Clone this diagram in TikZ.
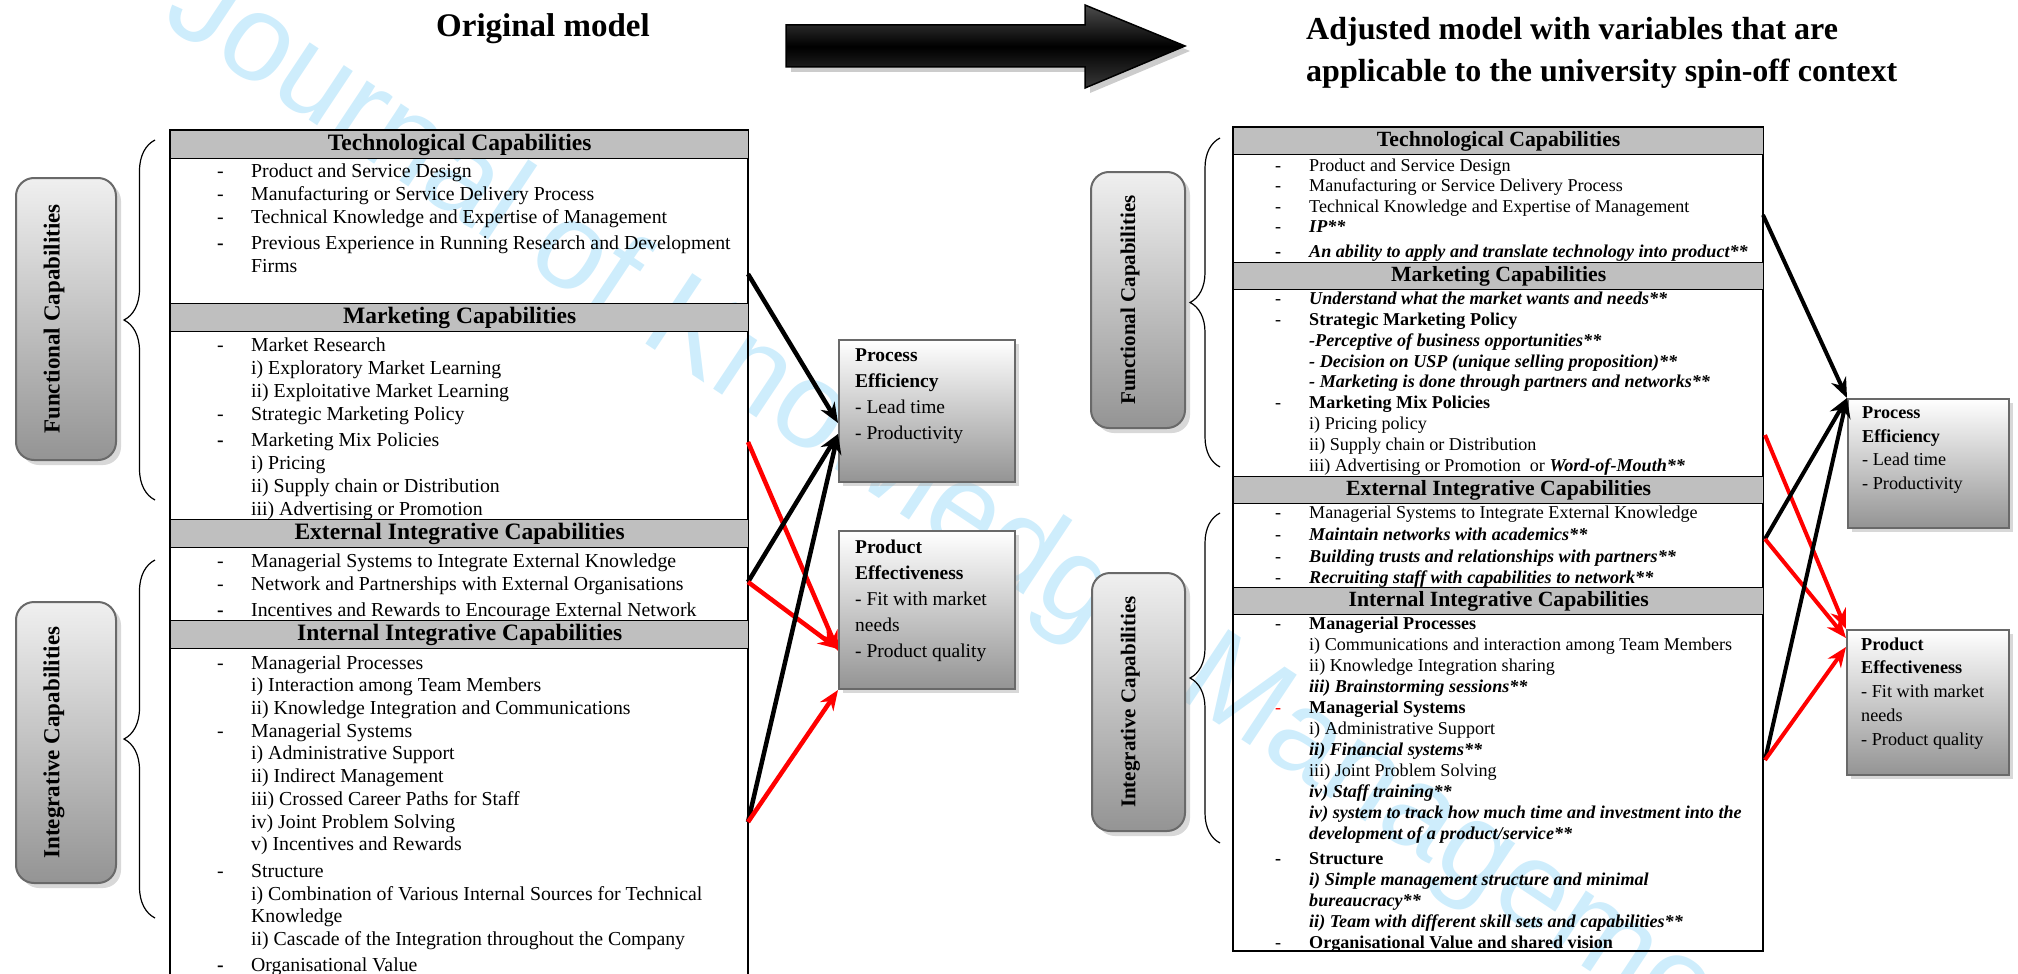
\documentclass[tikz,border=0pt]{standalone}
\usepackage{fontspec}
\setmainfont{Liberation Serif}
\newfontfamily\wmfont{Liberation Sans}
\usetikzlibrary{shapes,arrows.meta,positioning,shadows,decorations.pathreplacing}

\definecolor{hdrgray}{RGB}{191,191,191}
\definecolor{edgegray}{RGB}{105,105,105}
\definecolor{wmblue}{RGB}{206,237,252}

% list helpers
\newcommand{\itemdash}{\strut\makebox[34pt][l]{-}}
\newcommand{\itemdashb}{\strut\makebox[34pt][l]{\textbf{-}}}
\newcommand{\itemind}{\strut\hspace*{34pt}}
\newcommand{\bi}[1]{\textbf{\textit{#1}}}

\begin{document}
\begin{tikzpicture}[x=1pt, y=-1pt,
    hdrL/.style={draw, fill=hdrgray, line width=1.3pt, anchor=north west, inner sep=0pt,
                 minimum width=578pt, minimum height=28pt, font=\fontsize{23.5}{26}\selectfont\bfseries},
    hdrR/.style={hdrL, minimum width=530pt, minimum height=26.5pt, font=\fontsize{21.7}{24}\selectfont\bfseries},
    bodyL/.style={anchor=north west, inner sep=0pt, align=left, font=\fontsize{19.8}{23}\selectfont},
    bodyR/.style={bodyL, font=\fontsize{18.1}{20.8}\selectfont},
    sidebox/.style={draw=edgegray, line width=2pt, rounded corners=18pt, top color=black!6, bottom color=black!42,
                    drop shadow={shadow xshift=5pt, shadow yshift=-5pt, fill=black!30}},
    sidetext/.style={rotate=90, inner sep=0pt, font=\fontsize{23}{26}\selectfont\bfseries},
    outbox/.style={draw=edgegray, line width=2pt, anchor=north west, top color=white, bottom color=black!42,
                   drop shadow={shadow xshift=4pt, shadow yshift=-4pt, fill=black!30}},
    outtextL/.style={anchor=north west, align=left, inner xsep=17pt, inner ysep=9.8pt, font=\fontsize{19.5}{26}\selectfont},
    outtextR/.style={outtextL, inner xsep=15pt, inner ysep=8.2pt, font=\fontsize{18.2}{23.8}\selectfont},
    blackarr/.style={line width=4.5pt, -{Stealth[length=20pt,width=16pt]}},
    redarr/.style={blackarr, red},
    brc/.style={decorate, decoration={brace, amplitude=31pt}, line width=1.2pt},
    ttl/.style={inner sep=0pt, font=\fontsize{33}{42}\selectfont\bfseries}
]
\path[use as bounding box] (0,0) rectangle (2018,974);
\clip (0,0) rectangle (2018,974);

% watermark
\node[rotate=-33.6, text=wmblue, font=\wmfont\fontsize{123}{123}\selectfont] (wmark) at (983,530) {Journal of Knowledge Management};

% titles and big arrow
\node[ttl, anchor=base] (origT) at (543,37) {Original model};
\node[ttl, anchor=north west, align=left, font=\fontsize{32}{42}\selectfont\bfseries] (adjT) at (1306,9.6) {\strut Adjusted model with variables that are\\applicable to the university spin-off context};
\path[draw=black, line width=1.5pt, shading=axis, top color=black!70, bottom color=black!78, middle color=black,
      drop shadow={shadow xshift=5pt, shadow yshift=-5pt, fill=black!40}]
  (786,25) -- (1085,25) -- (1085,5) -- (1185,46) -- (1085,88) -- (1085,67) -- (786,67) -- cycle;

% ---------------- original model ----------------
\node[sidebox, minimum width=100pt, minimum height=282pt] (funcL) at (66,319) {};
\node[sidetext] (funcLt) at ([xshift=-12pt]funcL.center) {Functional Capabilities};
\node[sidebox, minimum width=100pt, minimum height=281pt] (integL) at (66,742.5) {};
\node[sidetext] (integLt) at ([xshift=-12pt]integL.center) {Integrative Capabilities};
\draw[brc] (155,500) -- (155,140);
\draw[brc] (155,918) -- (155,560);

\draw[line width=1.3pt] (170,130) rectangle (748,1000);
\node[hdrL] (techHL) at (170,130) {Technological Capabilities};
\node[bodyL] (techBL) at (217,161) {%
\itemdash Product and Service Design\\
\itemdash Manufacturing or Service Delivery Process\\
\itemdash Technical Knowledge and Expertise of Management\\[3pt]
\itemdashb Previous Experience in Running Research and Development\\
\itemind Firms};
\node[hdrL] (mktHL) at (170,303) {Marketing Capabilities};
\node[bodyL] (mktBL) at (217,335) {%
\itemdash Market Research\\
\itemind i) Exploratory Market Learning\\
\itemind ii) Exploitative Market Learning\\
\itemdash Strategic Marketing Policy\\[3.5pt]
\itemdashb Marketing Mix Policies\\
\itemind i) Pricing\\
\itemind ii) Supply chain or Distribution\\
\itemind iii) Advertising or Promotion};
\node[hdrL] (extHL) at (170,519) {External Integrative Capabilities};
\node[bodyL] (extBL) at (217,551) {%
\itemdash Managerial Systems to Integrate External Knowledge\\
\itemdash Network and Partnerships with External Organisations\\[3pt]
\itemdashb Incentives and Rewards to Encourage External Network};
\node[hdrL] (intHL) at (170,620) {Internal Integrative Capabilities};
\node[bodyL, font=\fontsize{19.8}{22.7}\selectfont] (intBL) at (217,653) {%
\itemdash Managerial Processes\\
\itemind i) Interaction among Team Members\\
\itemind ii) Knowledge Integration and Communications\\
\itemdash Managerial Systems\\
\itemind i) Administrative Support\\
\itemind ii) Indirect Management\\
\itemind iii) Crossed Career Paths for Staff\\
\itemind iv) Joint Problem Solving\\
\itemind v) Incentives and Rewards\\[4pt]
\itemdash Structure\\
\itemind i) Combination of Various Internal Sources for Technical\\
\itemind Knowledge\\
\itemind ii) Cascade of the Integration throughout the Company\\[3pt]
\itemdashb Organisational Value};

\node[outbox, minimum width=176pt, minimum height=142pt] (peL) at (838,339) {};
\node[outtextL] (peLt) at (peL.north west) {\textbf{Process}\\\textbf{Efficiency}\\- Lead time\\- Productivity};
\node[outbox, minimum width=176pt, minimum height=158pt] (pqL) at (838,530) {};
\node[outtextL] (pqLt) at (pqL.north west) {\textbf{Product}\\\textbf{Effectiveness}\\- Fit with market\\needs\\- Product quality};

\coordinate (sL1) at (748,274);
\coordinate (sL2) at (748,442);
\coordinate (sL3) at (748,582);
\coordinate (sL4) at (748,822);
\draw[blackarr] (sL1) -- ([yshift=-12pt]peL.west);
\draw[redarr] (sL2) -- ([yshift=-41pt]pqL.west);
\draw[blackarr] (sL3) -- ([yshift=-23pt]peL.west);
\draw[redarr] (sL3) -- ([yshift=-39pt]pqL.west);
\draw[blackarr] (sL4) -- ([yshift=-23pt]peL.west);
\draw[redarr] (sL4) -- (pqL.south west);

% ---------------- adjusted model ----------------
\node[sidebox, minimum width=94pt, minimum height=256pt] (funcR) at (1138,300) {};
\node[sidetext, font=\fontsize{21}{24}\selectfont\bfseries] (funcRt) at ([xshift=-8pt]funcR.center) {Functional Capabilities};
\node[sidebox, minimum width=93pt, minimum height=258pt] (integR) at (1138.5,702) {};
\node[sidetext, font=\fontsize{21}{24}\selectfont\bfseries] (integRt) at ([xshift=-8pt]integR.center) {Integrative Capabilities};
\draw[brc, decoration={amplitude=30pt}] (1220,467) -- (1220,138);
\draw[brc, decoration={amplitude=30pt}] (1220,843) -- (1220,513);

\draw[line width=1.3pt] (1233,127) rectangle (1763,951);
\node[hdrR] (techHR) at (1233,127) {Technological Capabilities};
\node[bodyR, font=\fontsize{18.1}{20.5}\selectfont] (techBR) at (1275,156.7) {%
\itemdash Product and Service Design\\
\itemdash Manufacturing or Service Delivery Process\\
\itemdash Technical Knowledge and Expertise of Management\\
\itemdash \bi{IP**}\\[4.5pt]
\itemdashb \bi{An ability to apply and translate technology into product**}};
\node[hdrR] (mktHR) at (1233,262) {Marketing Capabilities};
\node[bodyR] (mktBR) at (1275,290) {%
\itemdash \bi{Understand what the market wants and needs**}\\
\itemdash \textbf{Strategic Marketing Policy}\\
\itemind \bi{-Perceptive of business opportunities**}\\
\itemind \bi{- Decision on USP (unique selling proposition)**}\\
\itemind \bi{- Marketing is done through partners and networks**}\\
\itemdash \textbf{Marketing Mix Policies}\\
\itemind i) Pricing policy\\
\itemind ii) Supply chain or Distribution\\
\itemind iii) Advertising or Promotion\ \ or \bi{Word-of-Mouth**}};
\node[hdrR] (extHR) at (1233,476) {External Integrative Capabilities};
\node[bodyR, font=\fontsize{18.1}{21.7}\selectfont] (extBR) at (1275,503.3) {%
\itemdash Managerial Systems to Integrate External Knowledge\\
\itemdash \bi{Maintain networks with academics**}\\
\itemdash \bi{Building trusts and relationships with partners**}\\
\itemdash \bi{Recruiting staff with capabilities to network**}};
\node[hdrR] (intHR) at (1233,587) {Internal Integrative Capabilities};
\node[bodyR, font=\fontsize{18.1}{21}\selectfont] (intBR) at (1275,614.8) {%
\itemdash \textbf{Managerial Processes}\\
\itemind i) Communications and interaction among Team Members\\
\itemind ii) Knowledge Integration sharing\\
\itemind \bi{iii) Brainstorming sessions**}\\
\strut\makebox[34pt][l]{\color{red}-}\textbf{Managerial Systems}\\
\itemind i) Administrative Support\\
\itemind \bi{ii) Financial systems**}\\
\itemind iii) Joint Problem Solving\\
\itemind \bi{iv) Staff training**}\\
\itemind \bi{iv) system to track how much time and investment into the}\\
\itemind \bi{development of a product/service**}\\[4pt]
\itemdashb \textbf{Structure}\\
\itemind \bi{i) Simple management structure and minimal}\\
\itemind \bi{bureaucracy**}\\
\itemind \bi{ii) Team with different skill sets and capabilities**}\\
\itemdash \textbf{Organisational Value and shared vision}};

\node[outbox, minimum width=161pt, minimum height=129pt] (peR) at (1847,398) {};
\node[outtextR] (peRt) at (peR.north west) {\textbf{Process}\\\textbf{Efficiency}\\- Lead time\\- Productivity};
\node[outbox, minimum width=162pt, minimum height=145pt] (pqR) at (1846,629) {};
\node[outtextR] (pqRt) at (pqR.north west) {\textbf{Product}\\\textbf{Effectiveness}\\- Fit with market\\needs\\- Product quality};

\coordinate (sR1) at (1763,215);
\coordinate (sR2) at (1765,435);
\coordinate (sR3) at (1765,539);
\coordinate (sR4) at (1765,760);
\draw[blackarr, line width=4pt] (sR1) -- (peR.north west);
\draw[redarr, line width=4pt] (sR2) -- (pqR.north west);
\draw[blackarr, line width=4pt] (sR3) -- (peR.north west);
\draw[redarr, line width=4pt] (sR3) -- ([yshift=-9pt]pqR.north west);
\draw[blackarr, line width=4pt] (sR4) -- (peR.north west);
\draw[redarr, line width=4pt] (sR4) -- ([yshift=-18pt]pqR.north west);
\end{tikzpicture}
\end{document}
